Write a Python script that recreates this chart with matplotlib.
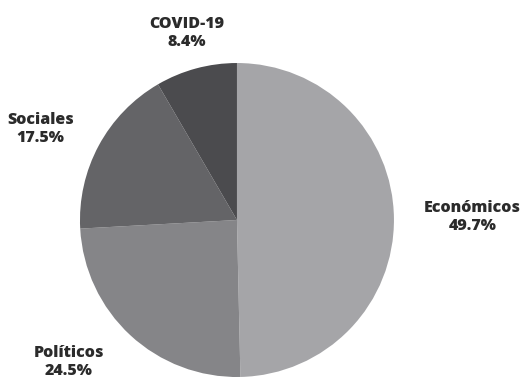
import matplotlib.pyplot as plt

categorias = ["Económicos", "Políticos", "Sociales", "COVID-19"]
porcentajes = [49.7, 24.5, 17.5, 8.4]
colores = ["#a5a5a8", "#858588", "#646467", "#4b4b4e"]

# label placement (data coords, pie radius = 1)
pos_etiquetas = [(1.50, 0.02), (-1.07, -0.905), (-1.25, 0.58), (-0.32, 1.19)]

fig = plt.figure(figsize=(5.2, 3.81), dpi=100)
ax = fig.add_axes([0.1538, 0.0105, 0.6038, 0.8241])
ax.pie(porcentajes, colors=colores, startangle=90, counterclock=False,
       radius=1, wedgeprops=dict(linewidth=0))
ax.set_xlim(-1, 1)
ax.set_ylim(-1, 1)
ax.set_aspect("equal")
ax.axis("off")

for cat, p, (x, y) in zip(categorias, porcentajes, pos_etiquetas):
    ax.text(x, y, f"{cat}\n{p}%", ha="center", va="center",
            fontsize=11.5, fontweight="heavy", family="Open Sans",
            color="#2b2b2b", linespacing=1.2, clip_on=False)

fig.savefig("out.png", dpi=100, facecolor="white")
